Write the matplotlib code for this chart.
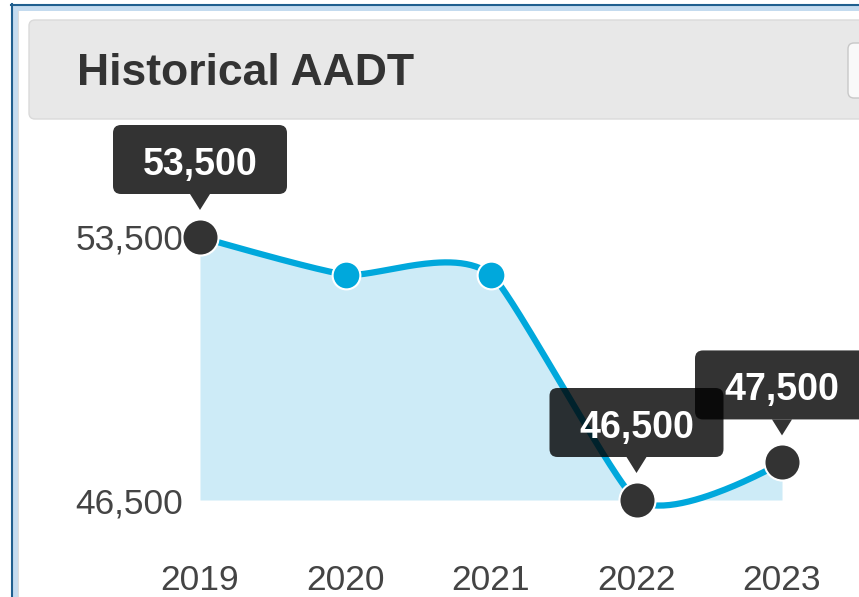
import numpy as np
import matplotlib.pyplot as plt
import matplotlib.transforms as mtransforms
from matplotlib.patches import FancyBboxPatch, Rectangle, Polygon
from matplotlib.lines import Line2D

# datos del gráfico
years = [2019, 2020, 2021, 2022, 2023]
aadt = [53500, 52500, 52500, 46500, 47500]
y_ticks = [46500, 53500]
tooltip_years = [2019, 2022, 2023]
title = "Historical AADT"

plt.rcParams['font.family'] = ['Liberation Sans', 'DejaVu Sans']

W, H = 859, 597
fig = plt.figure(figsize=(W / 100, H / 100), dpi=100)
pix = mtransforms.IdentityTransform()  # coordenadas en pixeles (origen abajo-izq)

# marco exterior (por debajo de los ejes)
fig.add_artist(Rectangle((12, -5), 900, H, transform=pix, fc='#c4dbef', ec='none', zorder=-10))
fig.add_artist(Rectangle((18, -5), 900, H - 6, transform=pix, fc='white', ec='none', zorder=-9))
fig.add_artist(Line2D([17.5, 17.5], [-5, H - 11], transform=pix, color='#dcdcdc', lw=0.8, zorder=-8))
fig.add_artist(Line2D([11.5, 11.5], [-5, H - 4], transform=pix, color='#1f5f8f', lw=1.5, zorder=-8))
fig.add_artist(Line2D([11, 900], [H - 4.5, H - 4.5], transform=pix, color='#1f5f8f', lw=1.5, zorder=-8))

# cabecera
fig.add_artist(FancyBboxPatch((29, H - 119), 900, 99, boxstyle='round,pad=0,rounding_size=6',
                              transform=pix, fc='#e8e8e8', ec='#dadada', lw=1, zorder=-7))
fig.add_artist(FancyBboxPatch((848, H - 98), 40, 55, boxstyle='round,pad=0,rounding_size=6',
                              transform=pix, fc='#f9f9f9', ec='#c8c8c8', lw=1, zorder=-6))
fig.text(77 / W, 1 - 85 / H, title, fontsize=32, fontweight='bold', color='#333333', va='baseline')

# ejes
ax = fig.add_axes([200 / W, 1 - 500 / H, 582 / W, 263 / H])
ax.set_xlim(years[0], years[-1])
ax.set_ylim(y_ticks[0], y_ticks[-1])
for s in ax.spines.values():
    s.set_visible(False)
ax.patch.set_alpha(0)
ax.set_xticks(years)
ax.set_xticklabels([str(y) for y in years])
ax.set_yticks(y_ticks)
ax.set_yticklabels([f"{v:,}" for v in y_ticks])
ax.tick_params(axis='x', length=0, pad=46, labelsize=25.5, labelcolor='#444444')
ax.tick_params(axis='y', length=0, pad=12, labelsize=25.5, labelcolor='#444444')

# curva suavizada calculada en pixeles
pts = ax.transData.transform(np.column_stack([years, aadt]))
n = len(pts)
t = 0.2
ctrl_prev = np.zeros_like(pts)
ctrl_next = np.zeros_like(pts)
for i in range(n):
    p0 = pts[max(i - 1, 0)]
    p1 = pts[i]
    p2 = pts[min(i + 1, n - 1)]
    d01 = np.hypot(*(p1 - p0))
    d12 = np.hypot(*(p2 - p1))
    s01 = d01 / (d01 + d12)
    s12 = d12 / (d01 + d12)
    ctrl_prev[i] = p1 - t * s12 * (p2 - p0)
    ctrl_next[i] = p1 + t * s01 * (p2 - p0)

curva = []
tt = np.linspace(0, 1, 60)[:, None]
for i in range(n - 1):
    a, b, c, d = pts[i], ctrl_next[i], ctrl_prev[i + 1], pts[i + 1]
    seg = (1 - tt) ** 3 * a + 3 * (1 - tt) ** 2 * tt * b + 3 * (1 - tt) * tt ** 2 * c + tt ** 3 * d
    curva.append(seg if i == 0 else seg[1:])
curva = ax.transData.inverted().transform(np.vstack(curva))
xc, yc = curva[:, 0], curva[:, 1]

ax.fill_between(xc, np.maximum(yc, y_ticks[0]), y_ticks[0], color='#cdebf7', lw=0, zorder=1)
ax.plot(xc, yc, color='#00a8dc', lw=4.5, solid_capstyle='round', clip_on=False, zorder=2)

for yr, v in zip(years, aadt):
    if yr in tooltip_years:
        ax.plot(yr, v, 'o', ms=26, mfc='#333333', mec='white', mew=1.5, clip_on=False, zorder=3)
    else:
        ax.plot(yr, v, 'o', ms=20, mfc='#00a8dc', mec='white', mew=1.5, clip_on=False, zorder=3)

# tooltips
for yr, v in zip(years, aadt):
    if yr not in tooltip_years:
        continue
    px_, py_ = ax.transData.transform((yr, v))
    fig.add_artist(FancyBboxPatch((px_ - 87, py_ + 43), 174, 69, boxstyle='round,pad=0,rounding_size=8',
                                  transform=pix, fc='black', ec='none', alpha=0.8, zorder=5))
    fig.add_artist(Polygon([(px_ - 10, py_ + 43), (px_ + 10, py_ + 43), (px_, py_ + 27)],
                           closed=True, transform=pix, fc='black', ec='none', alpha=0.8, zorder=5))
    fig.text(px_ / W, (py_ + 62) / H, f"{v:,}", fontsize=27, fontweight='bold', color='white',
             ha='center', va='baseline', zorder=6)

fig.savefig('out.png', dpi=100)
